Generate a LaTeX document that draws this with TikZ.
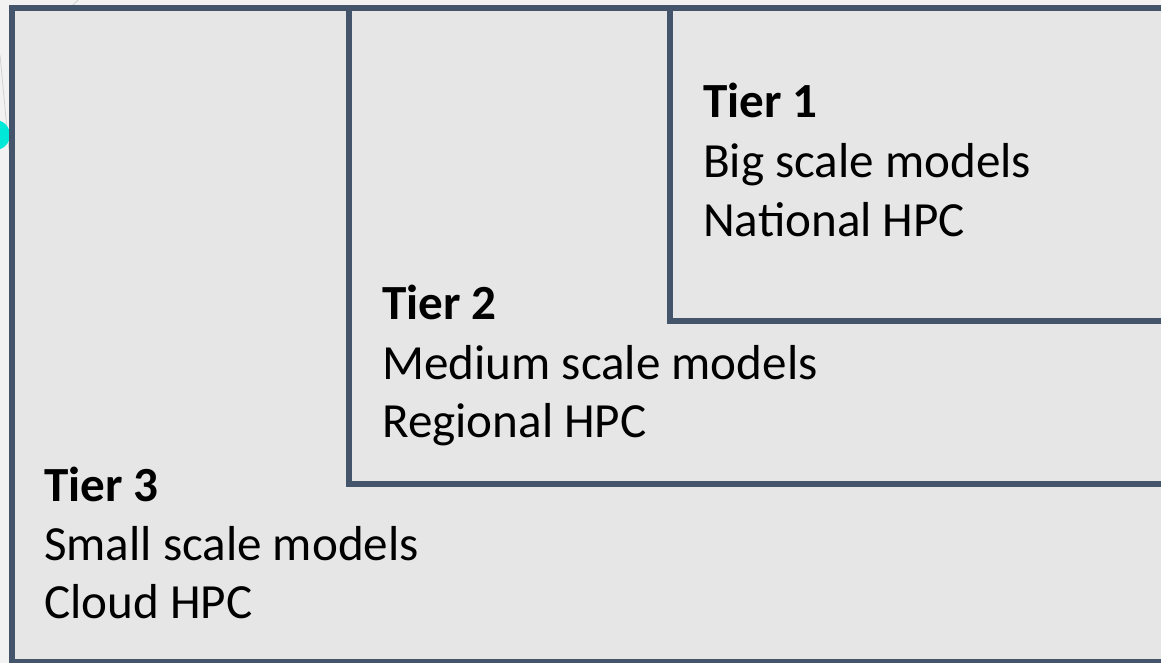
\documentclass[tikz,border=0pt]{standalone}
\usepackage{fontspec}
\setmainfont{Carlito}
\definecolor{frameblue}{HTML}{44546A}
\definecolor{boxgray}{HTML}{E6E6E6}
\definecolor{outsidegray}{HTML}{F2F2F2}
\definecolor{blobcyan}{HTML}{00E8D8}
\begin{document}
\begin{tikzpicture}[x=1bp,y=-1bp,
  tierbox/.style={draw=frameblue,fill=boxgray,line width=6bp,line join=miter},
  tiertxt/.style={anchor=base west,inner sep=0pt,font=\fontsize{49.3}{58}\selectfont,text=black},
  tierhead/.style={tiertxt,font=\fontsize{49.3}{58}\selectfont\bfseries}]
\useasboundingbox (0,0) rectangle (1161,663);
\clip (0,0) rectangle (1161,663);
\fill[outsidegray] (0,0) rectangle (1161,663);
\draw[gray!35,line width=0.8bp] (0,55) -- (9,150);
\draw[gray!35,line width=0.8bp] (72,6) -- (80,-2);
\fill[blobcyan] (-5,135) circle (15);
% boxes
\path[tierbox] (12,8) rectangle (1175,662);
\path[tierbox] (349,8) rectangle (1175,484);
\path[tierbox] (670,8) rectangle (1175,321);
% Tier 1
\node[tierhead] (t1h) at (703,117.5) {Tier 1};
\node[tiertxt] (t1a) at (703,178) {Big scale models};
\node[tiertxt] (t1b) at (703,236) {National HPC};
% Tier 2
\node[tierhead] (t2h) at (382,319) {Tier 2};
\node[tiertxt] (t2a) at (382,379) {Medium scale models};
\node[tiertxt] (t2b) at (382,437) {Regional HPC};
% Tier 3
\node[tierhead] (t3h) at (44,501.5) {Tier 3};
\node[tiertxt] (t3a) at (44,560) {Small scale models};
\node[tiertxt] (t3b) at (44,618) {Cloud HPC};
\end{tikzpicture}
\end{document}
